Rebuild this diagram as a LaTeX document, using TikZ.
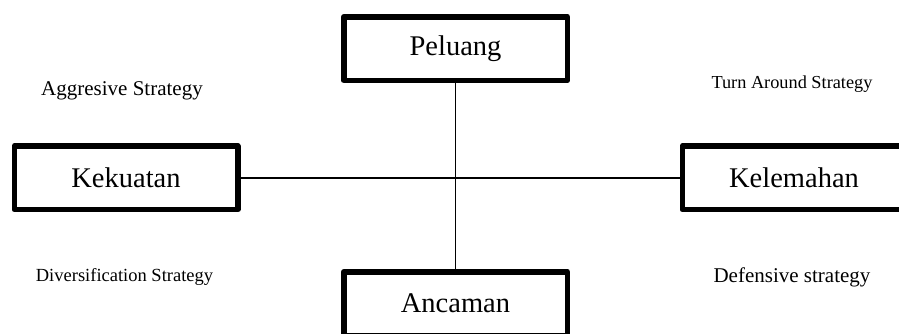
\documentclass[tikz,border=0pt]{standalone}
\usepackage{fontspec}
\setmainfont{Liberation Serif}
\begin{document}
\begin{tikzpicture}[x=1pt,y=-1pt]
\useasboundingbox (0,0) rectangle (899,333);
\clip (0,0) rectangle (899,333);
\tikzset{
  box/.style={draw, line width=5.5pt, line join=round, minimum width=223.5pt, minimum height=63.5pt, inner sep=0pt, font=\fontsize{28.5}{30}\selectfont},
  lbl/.style={anchor=base, inner sep=0pt},
  axis/.style={line width=1.5pt}
}
\node[box] (P) at (455.5,48.5) {Peluang};
\node[box] (K) at (126,177.8) {Kekuatan};
\node[box] (W) at (794,177.8) {Kelemahan};
\node[box] (A) at (455.5,303.5) {Ancaman};
\draw[axis] (P) -- (A);
\draw[axis] (K) -- (W);
\node[lbl, font=\fontsize{21}{24}\selectfont] (s1) at (122,95) {Aggresive Strategy};
\node[lbl, font=\fontsize{18.3}{21}\selectfont] (s2) at (792,88.3) {Turn Around Strategy};
\node[lbl, font=\fontsize{18.5}{21}\selectfont] (s3) at (124.5,281.7) {Diversification Strategy};
\node[lbl, font=\fontsize{21}{24}\selectfont] (s4) at (792,282.3) {Defensive strategy};
\end{tikzpicture}
\end{document}
